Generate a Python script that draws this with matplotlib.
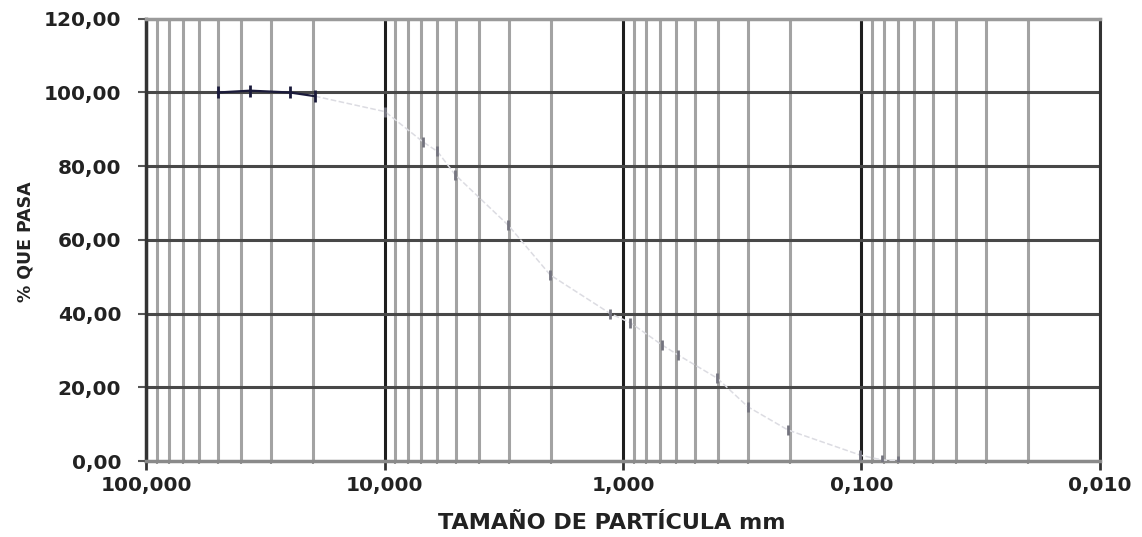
import numpy as np
import matplotlib.pyplot as plt
from matplotlib.ticker import FixedLocator, FuncFormatter, NullFormatter

# particle size (mm) and % passing
tamano = [50.0, 36.6, 24.9, 19.6, 9.95, 6.9, 6.0, 5.06, 3.03, 2.02, 1.13,
          0.93, 0.686, 0.588, 0.403, 0.299, 0.203, 0.101, 0.082, 0.070]
pasa = [100.0, 100.5, 100.0, 99.0, 94.8, 86.6, 84.0, 77.7, 64.0, 50.5, 40.0,
        37.5, 31.5, 28.8, 22.5, 14.7, 8.4, 1.6, 0.3, 0.0]

x_ticks = [100.0, 10.0, 1.0, 0.1, 0.01]
y_ticks = [0, 20, 40, 60, 80, 100, 120]

plt.rcParams['font.family'] = ['DejaVu Sans']
plt.rcParams['font.weight'] = 'bold'

fig = plt.figure(figsize=(11.42, 5.37), dpi=100)
ax = fig.add_axes([0.128, 0.1415, 0.835, 0.8235])

ax.set_xscale('log')
ax.set_xlim(100, 0.01)
ax.set_ylim(0, 120)

# minor vertical grid
minors = [m * 10.0 ** e for e in range(-2, 2) for m in range(2, 10)]
for xv in minors:
    ax.axvline(xv, color='#a3a3a3', lw=2.2, zorder=1)
for xv in x_ticks:
    ax.axvline(xv, color='#1e1e1e', lw=2.2, zorder=2)
for yv in y_ticks[1:-1]:
    ax.axhline(yv, color='#484848', lw=2.2, zorder=2)

# curve: the top part shows dark, the rest is faint
ax.plot(tamano[:4], pasa[:4], color='#1a1a3a', lw=1.6, marker='|',
        markersize=9, mew=2, zorder=4)
ax.plot(tamano[3:], pasa[3:], color='#dcdce2', lw=1.1, ls='--', zorder=3)
ax.plot(tamano[4:], pasa[4:], ls='none', color='#74747f', marker='|',
        markersize=7, mew=2, zorder=4)

ax.xaxis.set_major_locator(FixedLocator(x_ticks))
ax.xaxis.set_minor_locator(FixedLocator(minors))
ax.xaxis.set_minor_formatter(NullFormatter())
ax.xaxis.set_major_formatter(FuncFormatter(lambda v, p: f"{v:.3f}".replace('.', ',')))
ax.yaxis.set_major_locator(FixedLocator(y_ticks))
ax.yaxis.set_major_formatter(FuncFormatter(lambda v, p: f"{v:.2f}".replace('.', ',')))

ax.tick_params(axis='x', which='major', length=6.5, width=2, color='#333333',
               labelsize=14.5, pad=4, labelcolor='#222222')
ax.tick_params(axis='x', which='minor', length=2.5, width=1.5, color='#999999')
ax.tick_params(axis='y', length=6, width=1.5, color='#555555', labelsize=14.5,
               pad=12, labelcolor='#222222')

ax.spines['left'].set_color('#333333')
ax.spines['left'].set_linewidth(2.5)
ax.spines['bottom'].set_color('#8a8a8a')
ax.spines['bottom'].set_linewidth(2.5)
ax.spines['top'].set_color('#9a9a9a')
ax.spines['top'].set_linewidth(2.5)
ax.spines['right'].set_color('#333333')
ax.spines['right'].set_linewidth(2.2)

ax.set_xlabel('TAMAÑO DE PARTÍCULA mm', fontsize=16, fontweight='bold', color='#222222')
ax.xaxis.set_label_coords(0.488, -0.118)
ax.set_ylabel('% QUE PASA', fontsize=12.5, fontweight='bold', color='#222222')
ax.yaxis.set_label_coords(-0.117, 0.495)

fig.savefig('out.png', dpi=100)
